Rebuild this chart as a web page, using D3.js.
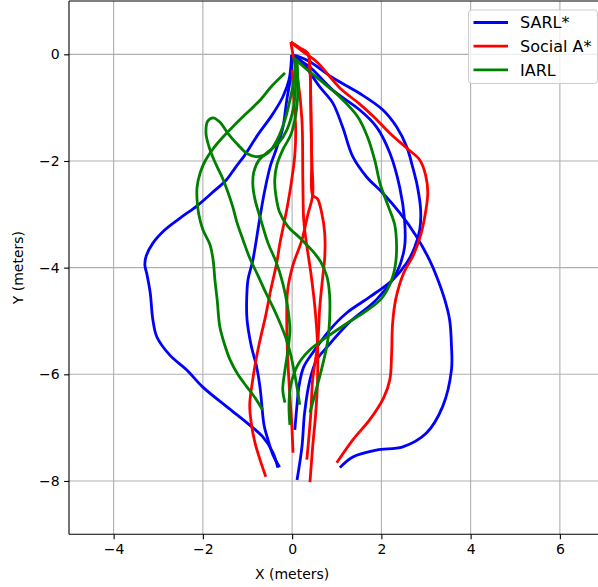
<!DOCTYPE html>
<html>
<head>
<meta charset="utf-8">
<script src="https://cdn.jsdelivr.net/npm/d3@7"></script>
<style>
  body { margin: 0; background: #fff; }
  svg { font-family: "DejaVu Sans", sans-serif; }
</style>
</head>
<body>
<script>
// trajectories, [x, y] in meters
var sarl = [
  [[-0.01,-0.01],[-0.07,-0.48],[-0.21,-0.80],[-0.45,-1.14],[-0.77,-1.51],[-1.06,-1.89],[-1.26,-2.11],[-1.48,-2.36],[-1.80,-2.60],[-2.13,-2.84],[-2.51,-3.07],[-2.85,-3.29],[-3.12,-3.54],[-3.27,-3.78],[-3.30,-3.95],[-3.25,-4.14],[-3.18,-4.47],[-3.12,-4.98],[-3.03,-5.30],[-2.74,-5.64],[-2.36,-5.92],[-2.00,-6.24],[-1.46,-6.61],[-1.01,-6.91],[-0.66,-7.17],[-0.43,-7.47],[-0.32,-7.75]],
  [[-0.01,-0.01],[-0.01,-0.29],[-0.12,-0.86],[-0.21,-1.38],[-0.36,-1.79],[-0.48,-2.07],[-0.61,-2.54],[-0.72,-3.05],[-0.88,-3.86],[-0.99,-4.23],[-1.02,-4.66],[-1.01,-4.98],[-0.92,-5.45],[-0.79,-5.88],[-0.72,-6.24],[-0.68,-6.57],[-0.63,-6.95],[-0.54,-7.23],[-0.43,-7.51],[-0.28,-7.74]],
  [[-0.01,-0.01],[0.17,-0.05],[0.40,-0.14],[0.91,-0.44],[1.51,-0.73],[2.03,-1.04],[2.34,-1.36],[2.57,-1.74],[2.70,-2.11],[2.81,-2.49],[2.88,-2.92],[2.86,-3.29],[2.74,-3.63],[2.57,-3.91],[2.25,-4.23],[1.74,-4.55],[1.22,-4.85],[0.84,-5.17],[0.51,-5.54],[0.26,-5.86],[0.15,-6.24],[0.11,-6.57],[0.06,-7.04]],
  [[-0.01,-0.01],[0.17,-0.11],[0.40,-0.24],[0.91,-0.67],[1.51,-1.04],[1.89,-1.36],[2.19,-1.85],[2.41,-2.49],[2.52,-3.11],[2.52,-3.61],[2.34,-4.10],[1.89,-4.60],[1.29,-5.02],[0.78,-5.49],[0.55,-5.73],[0.40,-6.10],[0.28,-6.72],[0.22,-7.36],[0.11,-7.98]],
  [[-0.01,-0.01],[0.13,-0.07],[0.24,-0.16],[0.62,-0.61],[0.91,-0.91],[1.13,-1.36],[1.36,-1.92],[1.67,-2.30],[2.03,-2.60],[2.41,-2.97],[2.79,-3.42],[3.08,-3.86],[3.24,-4.17],[3.42,-4.60],[3.53,-4.98],[3.57,-5.45],[3.57,-5.92],[3.37,-6.61],[3.01,-7.10],[2.48,-7.36],[1.89,-7.42],[1.36,-7.55],[1.07,-7.75]]
]

var socialA = [
  [[-0.03,0.23],[0.26,0.04],[0.55,-0.14],[1.07,-0.63],[1.51,-0.93],[1.85,-1.19],[2.19,-1.48],[2.57,-1.76],[2.86,-1.98],[2.99,-2.26],[3.04,-2.60],[2.99,-2.96],[2.88,-3.39],[2.72,-3.76],[2.50,-4.10],[2.32,-4.60],[2.25,-5.07],[2.23,-5.60],[2.19,-6.10],[2.05,-6.44],[1.74,-6.85],[1.36,-7.23],[1.00,-7.66]],
  [[0.00,-0.29],[0.04,-0.86],[0.08,-1.42],[0.06,-1.89],[-0.01,-2.36],[-0.10,-2.82],[-0.19,-3.20],[-0.28,-3.57],[-0.34,-3.89],[-0.48,-4.42],[-0.59,-4.89],[-0.72,-5.36],[-0.81,-5.73],[-0.90,-6.20],[-0.95,-6.57],[-0.92,-6.89],[-0.83,-7.29],[-0.72,-7.60],[-0.59,-7.92]],
  [[-0.03,0.23],[0.17,0.12],[0.35,0.02],[0.40,-0.29],[0.42,-1.04],[0.44,-1.98],[0.46,-2.64],[0.35,-3.01],[0.22,-3.48],[0.02,-3.95],[-0.10,-4.42],[-0.12,-5.04],[-0.10,-5.67],[-0.05,-6.42],[-0.01,-6.91],[0.02,-7.47]],
  [[-0.03,0.23],[0.02,-0.01],[0.13,-0.48],[0.22,-1.23],[0.24,-2.36],[0.26,-3.11],[0.31,-3.48],[0.42,-4.10],[0.51,-4.74],[0.57,-5.45],[0.57,-6.10],[0.53,-6.72],[0.46,-7.36],[0.40,-8.02]],
  [[-0.03,0.23],[0.17,0.12],[0.35,0.02],[0.40,-0.29],[0.42,-1.04],[0.44,-1.98],[0.46,-2.64],[0.57,-2.71],[0.66,-2.96],[0.73,-3.35],[0.73,-3.82],[0.69,-4.14],[0.62,-4.74],[0.57,-5.45],[0.46,-6.10],[0.42,-6.72],[0.37,-7.23],[0.33,-7.60]]
]

var iarl = [
  [[-0.16,-0.35],[-0.45,-0.59],[-0.72,-0.86],[-1.04,-1.12],[-1.33,-1.36],[-1.57,-1.57],[-1.77,-1.77],[-1.95,-2.00],[-2.06,-2.22],[-2.13,-2.49],[-2.13,-2.73],[-2.09,-3.01],[-2.00,-3.29],[-1.84,-3.57],[-1.77,-3.86],[-1.73,-4.23],[-1.68,-4.60],[-1.62,-5.11],[-1.51,-5.45],[-1.39,-5.73],[-1.21,-6.01],[-1.01,-6.24],[-0.83,-6.44],[-0.66,-6.67]],
  [[0.08,-0.11],[0.08,-0.58],[0.02,-1.04],[-0.12,-1.42],[-0.30,-1.66],[-0.54,-1.83],[-0.74,-1.98],[-0.86,-2.21],[-0.88,-2.45],[-0.83,-2.73],[-0.72,-3.05],[-0.54,-3.54],[-0.36,-3.89],[-0.21,-4.29],[-0.10,-4.74],[-0.05,-5.17],[-0.10,-5.58],[-0.16,-5.92],[-0.21,-6.29],[-0.16,-6.53]],
  [[0.08,-0.11],[0.04,-0.48],[-0.05,-0.86],[-0.16,-1.23],[-0.34,-1.61],[-0.54,-1.85],[-0.77,-1.92],[-0.99,-1.87],[-1.21,-1.70],[-1.44,-1.48],[-1.62,-1.27],[-1.77,-1.19],[-1.89,-1.25],[-1.93,-1.48],[-1.86,-1.74],[-1.73,-2.02],[-1.57,-2.30],[-1.44,-2.58],[-1.33,-2.86],[-1.24,-3.14],[-1.10,-3.48],[-0.95,-3.82],[-0.77,-4.14],[-0.59,-4.47],[-0.43,-4.74],[-0.28,-5.02],[-0.14,-5.32],[-0.03,-5.64],[0.06,-6.01],[0.13,-6.35],[0.17,-6.57]],
  [[0.02,-0.05],[0.24,-0.22],[0.62,-0.48],[1.07,-0.80],[1.47,-1.17],[1.69,-1.55],[1.85,-1.98],[1.98,-2.45],[2.16,-2.86],[2.30,-3.20],[2.34,-3.57],[2.32,-3.91],[2.23,-4.23],[2.01,-4.57],[1.63,-4.83],[1.18,-5.07],[0.78,-5.30],[0.40,-5.54],[0.13,-5.82],[-0.03,-6.20],[-0.07,-6.57],[-0.05,-6.95]],
  [[0.11,-0.11],[0.13,-0.67],[0.08,-1.14],[-0.03,-1.51],[-0.21,-1.79],[-0.34,-2.07],[-0.39,-2.36],[-0.36,-2.67],[-0.28,-2.96],[-0.10,-3.22],[0.17,-3.44],[0.44,-3.67],[0.64,-3.89],[0.78,-4.17],[0.84,-4.51],[0.84,-4.98],[0.80,-5.36],[0.71,-5.73],[0.60,-6.10],[0.49,-6.44],[0.40,-6.72]]
]

var seriesNames = ['SARL*', 'Social A*', 'IARL']
var seriesColors = ['#0000ff', '#ff0000', '#008000']
var xTicks = [-4, -2, 0, 2, 4, 6]
var yTicks = [0, -2, -4, -6, -8]

var W = 598, H = 587
var margin = {top: 1, left: 69}
var width = 535.5, height = 533.3

var x = d3.scaleLinear().domain([-5, 7]).range([0, width])
var y = d3.scaleLinear().domain([-9, 1]).range([height, 0])

var svg = d3.select('body').append('svg')
  .attr('width', W)
  .attr('height', H)

svg.append('defs').append('clipPath').attr('id', 'clip')
  .append('rect').attr('width', width).attr('height', height)

var g = svg.append('g')
  .attr('transform', `translate(${margin.left}, ${margin.top})`)

// grid
g.append('g').selectAll('line').data(xTicks).enter().append('line')
  .attr('x1', d => x(d)).attr('x2', d => x(d))
  .attr('y1', 0).attr('y2', height)
  .attr('stroke', '#b0b0b0').attr('stroke-width', 1.1)
g.append('g').selectAll('line').data(yTicks).enter().append('line')
  .attr('x1', 0).attr('x2', width)
  .attr('y1', d => y(d)).attr('y2', d => y(d))
  .attr('stroke', '#b0b0b0').attr('stroke-width', 1.1)

var line = d3.line()
  .x(d => x(d[0]))
  .y(d => y(d[1]))
  .curve(d3.curveCatmullRom.alpha(0.5))

var plot = g.append('g').attr('clip-path', 'url(#clip)')
;[sarl, socialA, iarl].forEach(function (trajs, i) {
  plot.append('g').selectAll('path').data(trajs).enter().append('path')
    .attr('d', line)
    .attr('fill', 'none')
    .attr('stroke', seriesColors[i])
    .attr('stroke-width', 2.8)
    .attr('stroke-linejoin', 'round')
})

// axes
var xAxis = d3.axisBottom(x).tickValues(xTicks).tickSize(4.9).tickPadding(4.5)
  .tickFormat(d => d3.format('d')(d).replace('-', '\u2212'))
var yAxis = d3.axisLeft(y).tickValues(yTicks).tickSize(4.9).tickPadding(4.5)
  .tickFormat(d => d3.format('d')(d).replace('-', '\u2212'))

var gx = g.append('g').attr('transform', `translate(0, ${height})`).call(xAxis)
var gy = g.append('g').call(yAxis)
;[gx, gy].forEach(function (a) {
  a.selectAll('text').attr('font-size', 14).attr('fill', '#000')
    .attr('font-family', '"DejaVu Sans", sans-serif')
  a.selectAll('line').attr('stroke', '#000').attr('stroke-width', 1.1)
  a.select('.domain').remove()
})

// spines
g.append('line').attr('x1', 0).attr('x2', 0).attr('y1', 0).attr('y2', height)
  .attr('stroke', '#000').attr('stroke-width', 1.1)
g.append('line').attr('x1', 0).attr('x2', width).attr('y1', height).attr('y2', height)
  .attr('stroke', '#000').attr('stroke-width', 1.1)
g.append('line').attr('x1', 0).attr('x2', width).attr('y1', 0).attr('y2', 0)
  .attr('stroke', '#000').attr('stroke-width', 1.1)

svg.append('text')
  .attr('x', margin.left + x(0)).attr('y', 579)
  .attr('text-anchor', 'middle').attr('font-size', 14)
  .text('X (meters)')
svg.append('text')
  .attr('transform', `translate(23, ${margin.top + height / 2}) rotate(-90)`)
  .attr('text-anchor', 'middle').attr('font-size', 14)
  .text('Y (meters)')

// legend
var lg = svg.append('g').attr('transform', 'translate(468.5, 10)')
lg.append('rect')
  .attr('width', 129).attr('height', 73.5).attr('rx', 3)
  .attr('fill', '#fff').attr('fill-opacity', 0.8)
  .attr('stroke', '#cccccc').attr('stroke-width', 1)
seriesNames.forEach(function (name, i) {
  var ly = 12.5 + i * 23.7
  lg.append('line')
    .attr('x1', 5).attr('x2', 39.5).attr('y1', ly).attr('y2', ly)
    .attr('stroke', seriesColors[i]).attr('stroke-width', 2.8)
  lg.append('text')
    .attr('x', 51.5).attr('y', ly + 5.8)
    .attr('font-size', 16)
    .text(name)
})
</script>
</body>
</html>
